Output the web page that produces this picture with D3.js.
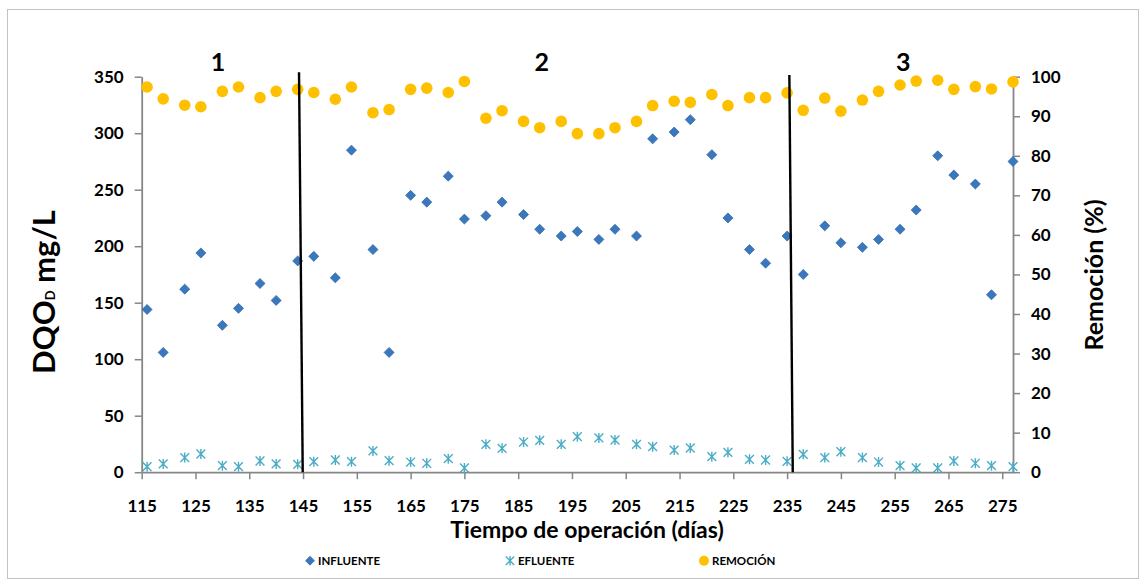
<!DOCTYPE html>
<html>
<head>
<meta charset="utf-8">
<script src="https://cdn.jsdelivr.net/npm/d3@7"></script>
<style>
  html, body { margin: 0; padding: 0; background: #ffffff; }
  svg { display: block; font-family: Lato, "Open Sans", "DejaVu Sans", sans-serif; }
</style>
</head>
<body>
<svg id="chart" width="1140" height="580"></svg>
<script>
// ---------- data ----------
const days = [116,119,123,126,130,133,137,140,144,147,151,154,158,161,165,168,172,175,179,182,186,189,193,196,200,203,207,210,214,217,221,224,228,231,235,238,242,245,249,252,256,259,263,266,270,273,277];
const influente = [144,106,162,194,130,145,167,152,187,191,172,285,197,106,245,239,262,224,227,239,228,215,209,213,206,215,209,295,301,312,281,225,197,185,209,175,218,203,199,206,215,232,280,263,255,157,275];
const efluente = [4.9,7.3,12.9,16.1,5.8,4.9,9.9,7.3,7.0,9.3,10.8,9.3,18.8,10.2,9.0,7.9,12.0,3.7,24.7,21.1,26.7,28.2,24.7,31.4,30.3,28.5,24.7,22.6,19.6,21.4,13.7,17.6,11.4,10.8,9.6,15.8,12.9,18.1,12.9,9.0,5.8,3.7,3.7,9.9,7.9,5.8,4.9];
const remocion = [97.4,94.4,92.8,92.4,96.3,97.4,94.7,96.3,96.8,96.0,94.3,97.4,90.9,91.7,96.8,97.1,96.0,98.8,89.5,91.4,88.7,87.1,88.7,85.6,85.6,87.1,88.7,92.7,93.8,93.5,95.5,92.7,94.7,94.7,95.9,91.5,94.6,91.3,94.1,96.3,97.9,98.9,99.1,96.8,97.5,96.9,98.7];

const xTickValues = [115,125,135,145,155,165,175,185,195,205,215,225,235,245,255,265,275];
const leftTickValues = [0,50,100,150,200,250,300,350];
const rightTickValues = [0,10,20,30,40,50,60,70,80,90,100];

// stage dividers (day at top, day at bottom, top value on left axis)
const dividerTopDay = [144.25, 235.42];
const dividerBottomDay = [144.94, 236.05];
const dividerTopValue = [354, 351.5];
const stageLabels = ["1", "2", "3"];
const stageLabelDays = [129.2, 189.4, 256.6];

const seriesNames = ["INFLUENTE", "EFLUENTE", "REMOCIÓN"];

// ---------- layout ----------
const svg = d3.select("#chart");
const X0 = 141.7, X1 = 1013, Y0 = 472.2, Y1 = 76.7;

const x = d3.scaleLinear().domain([115, 277]).range([X0, X1]);
const yL = d3.scaleLinear().domain([0, 350]).range([Y0, Y1]);
const yR = d3.scaleLinear().domain([0, 100]).range([Y0, Y1]);

const axisColor = "#868686";
const blue = "#3d77bb", blueStroke = "#2c6db4";
const cyan = "#4bacc6";
const gold = "#ffc000";

// outer border
svg.append("rect").attr("x", 7.5).attr("y", 9.5).attr("width", 1131).attr("height", 569)
  .attr("fill", "none").attr("stroke", "#c3c3c3").attr("stroke-width", 1);

function styleAxis(g) {
  g.select(".domain").attr("stroke", axisColor).attr("stroke-width", 1.8);
  g.selectAll(".tick line").attr("stroke", axisColor).attr("stroke-width", 1.5);
  g.selectAll(".tick text").attr("fill", "#000").attr("font-weight", 700).attr("font-size", 17)
    .attr("font-family", "Lato, 'Open Sans', sans-serif");
}

// left axis
const gL = svg.append("g").attr("transform", `translate(${X0},0)`)
  .call(d3.axisLeft(yL).tickValues(leftTickValues).tickSize(7).tickPadding(11).tickSizeOuter(0));
styleAxis(gL);

// right axis
const gR = svg.append("g").attr("transform", `translate(${X1},0)`)
  .call(d3.axisRight(yR).tickValues(rightTickValues).tickSize(7).tickPadding(11).tickSizeOuter(0));
styleAxis(gR);

// bottom axis
const gB = svg.append("g").attr("transform", `translate(0,${Y0})`)
  .call(d3.axisBottom(x).tickValues(xTickValues).tickSize(7).tickSizeOuter(0));
styleAxis(gB);
gB.selectAll(".tick text").attr("y", 40).attr("dy", 0);

// axis titles
svg.append("text")
  .attr("transform", `translate(55,${292}) rotate(-90)`)
  .attr("text-anchor", "middle")
  .attr("font-weight", 700).attr("font-size", 31).attr("fill", "#000")
  .call(t => {
    t.append("tspan").text("DQO");
    t.append("tspan").attr("font-size", 13).text("D");
    t.append("tspan").text(" mg/L");
  });

svg.append("text")
  .attr("transform", `translate(1103,275) rotate(-90)`)
  .attr("text-anchor", "middle")
  .attr("font-weight", 700).attr("font-size", 25).attr("fill", "#000")
  .text("Remoción (%)");

svg.append("text")
  .attr("x", 587).attr("y", 538)
  .attr("text-anchor", "middle")
  .attr("font-weight", 700).attr("font-size", 23).attr("fill", "#000")
  .text("Tiempo de operación (días)");

// ---------- marks ----------
const diamond = d3.symbol().type(d3.symbolDiamond2).size(64);
function starPath(r, d) {
  return `M${-d},${-d}L${d},${d}M${-d},${d}L${d},${-d}M0,${-r}L0,${r}`;
}

const rows = days.map((d, i) => ({ day: d, inf: influente[i], ef: efluente[i], rem: remocion[i] }));

svg.append("g").selectAll("path").data(rows).join("path")
  .attr("d", diamond)
  .attr("transform", d => `translate(${x(d.day)},${yL(d.inf)})`)
  .attr("fill", blue).attr("stroke", blueStroke).attr("stroke-width", 0.8);

svg.append("g").selectAll("path").data(rows).join("path")
  .attr("d", starPath(5, 4.4))
  .attr("transform", d => `translate(${x(d.day)},${yL(d.ef)})`)
  .attr("fill", "none").attr("stroke", cyan).attr("stroke-width", 1.4);

svg.append("g").selectAll("circle").data(rows).join("circle")
  .attr("cx", d => x(d.day)).attr("cy", d => yR(d.rem)).attr("r", 5.8)
  .attr("fill", gold);

// stage dividers
svg.append("g").selectAll("line").data(dividerTopDay).join("line")
  .attr("x1", (d) => x(d)).attr("y1", (d, i) => yL(dividerTopValue[i]))
  .attr("x2", (d, i) => x(dividerBottomDay[i])).attr("y2", yL(0))
  .attr("stroke", "#000").attr("stroke-width", 2.4);

// stage labels
svg.append("g").selectAll("text").data(stageLabels).join("text")
  .attr("x", (d, i) => x(stageLabelDays[i])).attr("y", yL(355.3))
  .attr("text-anchor", "middle")
  .attr("font-weight", 700).attr("font-size", 25).attr("fill", "#000")
  .text(d => d);

// ---------- legend ----------
const legendY = 560.7;
const legendMarkX = [310, 510, 704];
const lg = svg.append("g");
lg.append("path").attr("d", d3.symbol().type(d3.symbolDiamond2).size(50))
  .attr("transform", `translate(${legendMarkX[0]},${legendY})`).attr("fill", blue).attr("stroke", blueStroke).attr("stroke-width", 0.8);
lg.append("path").attr("d", starPath(4.8, 4.2))
  .attr("transform", `translate(${legendMarkX[1]},${legendY})`).attr("fill", "none").attr("stroke", cyan).attr("stroke-width", 1.4);
lg.append("circle").attr("cx", legendMarkX[2]).attr("cy", legendY).attr("r", 5).attr("fill", gold);
lg.selectAll("text").data(seriesNames).join("text")
  .attr("x", (d, i) => legendMarkX[i] + 8).attr("y", legendY + 4.2)
  .attr("font-weight", 700).attr("font-size", 11.5).attr("fill", "#000")
  .text(d => d);
</script>
</body>
</html>
